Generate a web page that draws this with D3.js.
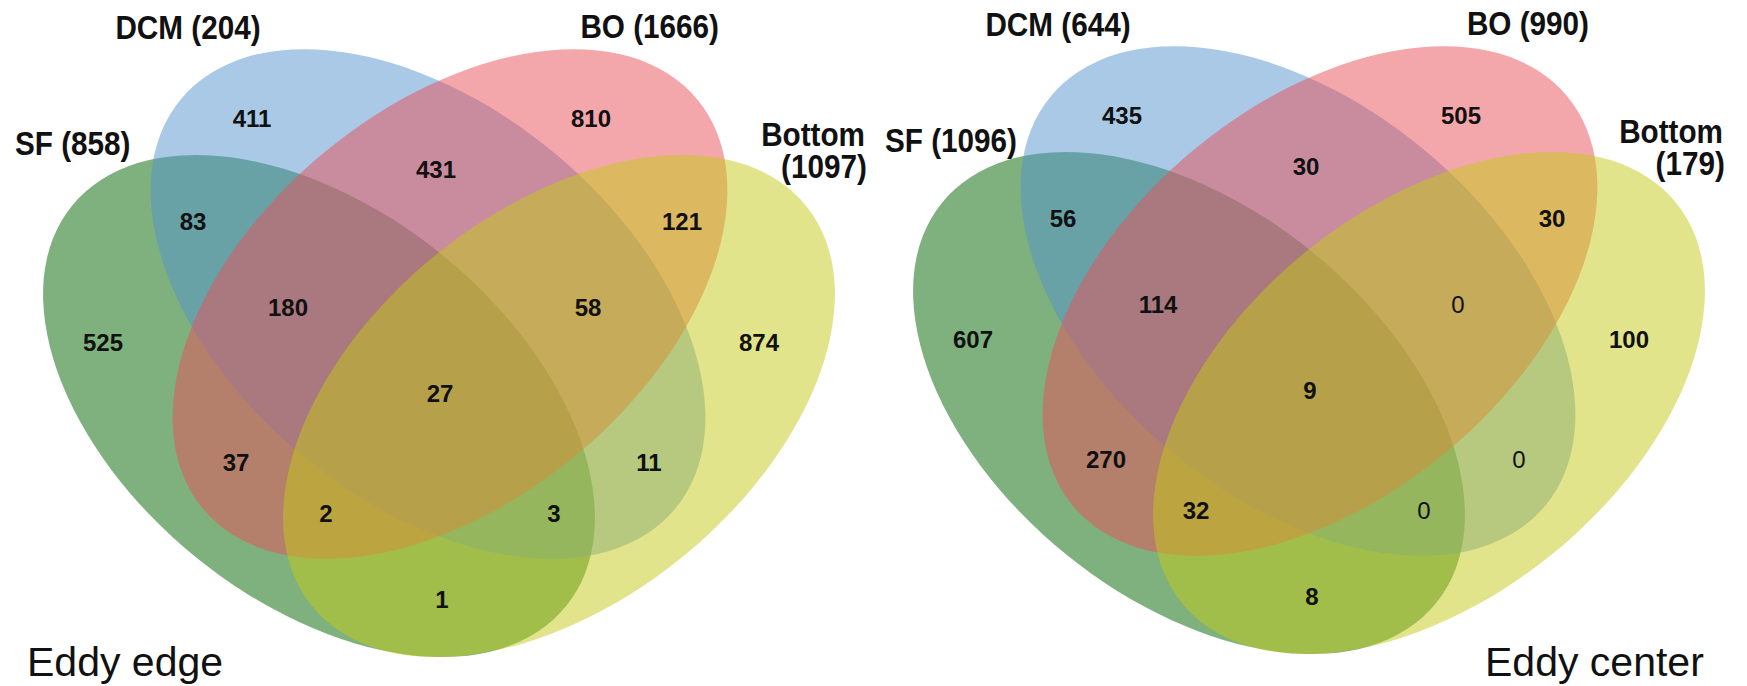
<!DOCTYPE html>
<html>
<head>
<meta charset="utf-8">
<script src="https://cdn.jsdelivr.net/npm/d3@7"></script>
<style>
  html, body { margin: 0; padding: 0; background: #fff; }
  svg { display: block; }
  text { font-family: "Liberation Sans", Arial, sans-serif; fill: #111; }
</style>
</head>
<body>
<svg id="chart" width="1747" height="686"></svg>
<script>
// Set names and the regions of a four-set Venn diagram (membership keys)
const setNames = ["SF", "DCM", "BO", "Bottom"];
const regionKeys = [
  "SF", "DCM", "BO", "Bottom",
  "SF&DCM", "DCM&BO", "BO&Bottom", "SF&BO", "DCM&Bottom", "SF&Bottom",
  "SF&DCM&BO", "DCM&BO&Bottom", "SF&BO&Bottom", "SF&DCM&Bottom",
  "SF&DCM&BO&Bottom"
];

// Eddy edge counts per region, and set totals as labelled
const edgeCounts = [525, 411, 810, 874, 83, 431, 121, 37, 11, 1, 180, 58, 2, 3, 27];
const edgeTotals = [858, 204, 1666, 1097];

// Eddy center counts per region, and set totals
const centerCounts = [607, 435, 505, 100, 56, 30, 30, 270, 0, 8, 114, 0, 32, 0, 9];
const centerTotals = [1096, 644, 990, 179];

const panelTitles = ["Eddy edge", "Eddy center"];

// ---- layout (panel-local pixel frame, 880 x 686) ----
const setColors = ["rgb(0,100,0)", "rgb(83,147,205)", "rgb(233,79,87)", "rgb(195,201,21)"];
const ellipses = [
  { cx: 319, cy: 406, rx: 318, ry: 195, rot: 39 },    // SF
  { cx: 428, cy: 304, rx: 321, ry: 197, rot: 39.6 },  // DCM
  { cx: 450, cy: 304, rx: 321, ry: 197, rot: -39.6 }, // BO
  { cx: 559, cy: 406, rx: 318, ry: 195, rot: -39 }    // Bottom
];
const regionPos = {
  "SF": [103, 342], "DCM": [252, 118], "BO": [591, 118], "Bottom": [759, 342],
  "SF&DCM": [193, 221], "DCM&BO": [436, 169], "BO&Bottom": [682, 221],
  "SF&BO": [236, 462], "DCM&Bottom": [649, 462], "SF&Bottom": [442, 599],
  "SF&DCM&BO": [288, 307], "DCM&BO&Bottom": [588, 307],
  "SF&BO&Bottom": [326, 513], "SF&DCM&Bottom": [554, 513],
  "SF&DCM&BO&Bottom": [440, 393]
};

const panels = [
  { ox: 0,   oy: 0,  counts: edgeCounts,   totals: edgeTotals,   title: panelTitles[0],
    titleX: 27, bottomX: 865 },
  { ox: 870, oy: -3, counts: centerCounts, totals: centerTotals, title: panelTitles[1],
    titleX: 1485 - 870, bottomX: 853 }
];

const svg = d3.select("#chart");

panels.forEach(p => {
  const x = d3.scaleLinear().domain([0, 880]).range([p.ox, p.ox + 880]);
  const y = d3.scaleLinear().domain([0, 686]).range([p.oy, p.oy + 686]);
  const g = svg.append("g");

  // ellipses, drawn in order SF, DCM, BO, Bottom with half transparency
  g.selectAll("ellipse")
    .data(ellipses)
    .join("ellipse")
    .attr("transform", d => `translate(${x(d.cx)},${y(d.cy)}) rotate(${d.rot})`)
    .attr("rx", d => d.rx)
    .attr("ry", d => d.ry)
    .attr("fill", (d, i) => setColors[i])
    .attr("fill-opacity", 0.5);

  // region counts
  g.selectAll("text.count")
    .data(regionKeys.map((k, i) => ({ key: k, value: p.counts[i] })))
    .join("text")
    .attr("class", "count")
    .attr("x", d => x(regionPos[d.key][0]))
    .attr("y", d => y(regionPos[d.key][1]))
    .attr("dy", "0.36em")
    .attr("text-anchor", "middle")
    .style("font-size", "24px")
    .style("font-weight", d => d.value === 0 ? "normal" : "bold")
    .text(d => d.value);

  // set labels
  const lab = (lx, ly, anchor) => g.append("text")
      .attr("transform", `translate(${x(lx)},${y(ly)}) scale(0.9,1)`)
      .attr("text-anchor", anchor)
      .style("font-size", "33px")
      .style("font-weight", "bold");
  lab(15, 155, "start").text(`${setNames[0]} (${p.totals[0]})`);
  lab(188, 39, "middle").text(`${setNames[1]} (${p.totals[1]})`);
  lab(719, 38, "end").text(`${setNames[2]} (${p.totals[2]})`);
  const bl = lab(p.bottomX, 146, "end");
  bl.append("tspan").attr("x", 0).attr("y", 0).text(setNames[3]);
  bl.append("tspan").attr("x", 2).attr("y", 32).text(`(${p.totals[3]})`);

  // panel title
  g.append("text")
    .attr("x", x(p.titleX))
    .attr("y", 676)
    .style("font-size", "41px")
    .text(p.title);
});
</script>
</body>
</html>
